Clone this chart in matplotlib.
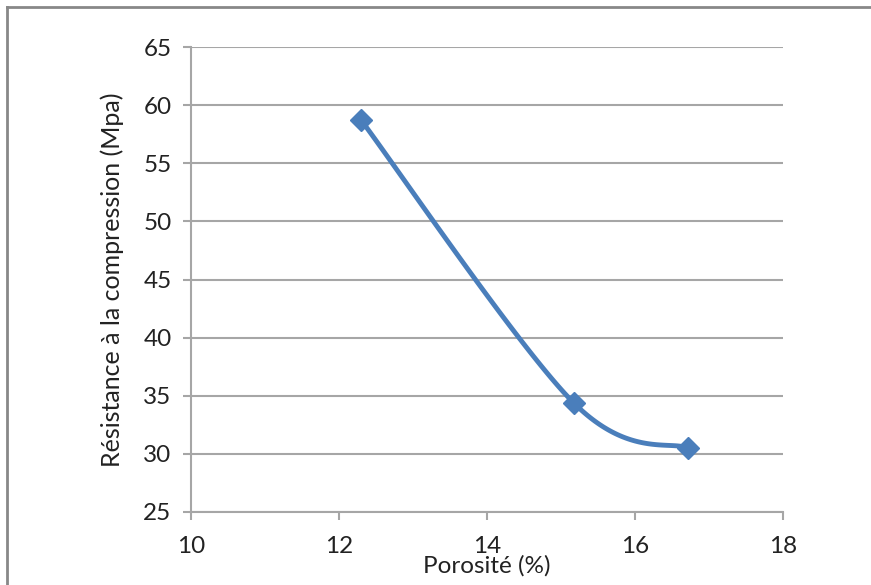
import matplotlib.pyplot as plt
import numpy as np
from matplotlib.lines import Line2D

# données
porosite = [12.3, 15.17, 16.72]
resistance = [58.7, 34.4, 30.5]
x_ticks = [10, 12, 14, 16, 18]
y_ticks = [25, 30, 35, 40, 45, 50, 55, 60, 65]

plt.rcParams['font.family'] = ['Lato', 'DejaVu Sans']

fig = plt.figure(figsize=(8.71, 5.85), dpi=100)
ax = fig.add_axes([191 / 871, 1 - 512 / 585, 592 / 871, 465 / 585])
ax.set_xlim(10, 18)
ax.set_ylim(25, 65)
ax.set_xticks(x_ticks)
ax.set_yticks(y_ticks)

grid_c = '#a6a6a6'
txt_c = '#222222'
ax.grid(axis='y', color=grid_c, lw=1.5)
ax.set_axisbelow(True)
for s in ['top', 'right']:
    ax.spines[s].set_visible(False)
for s in ['left', 'bottom']:
    ax.spines[s].set_color(grid_c)
    ax.spines[s].set_linewidth(1.5)
ax.tick_params(direction='out', length=6, width=1.5, color=grid_c,
               labelsize=17.5, labelcolor=txt_c, pad=8)
ax.tick_params(axis='x', pad=11)

# lissage type Excel (Bezier, calculé en pixels)
pts = ax.transData.transform(np.column_stack([porosite, resistance]))
ext = np.vstack([pts[0], pts, pts[-1]])
curve = []
t = np.linspace(0, 1, 60)[:, None]
for i in range(1, len(ext) - 2):
    p0, p1 = ext[i], ext[i + 1]
    c1 = p0 + (ext[i + 1] - ext[i - 1]) / 6
    c2 = p1 - (ext[i + 2] - ext[i]) / 6
    seg = ((1 - t) ** 3) * p0 + 3 * ((1 - t) ** 2) * t * c1 + 3 * (1 - t) * t ** 2 * c2 + t ** 3 * p1
    curve.append(seg)
curve = ax.transData.inverted().transform(np.vstack(curve))

blue = '#4a7ebb'
ax.plot(curve[:, 0], curve[:, 1], color=blue, lw=3.5, solid_capstyle='round')
ax.plot(porosite, resistance, 'D', color=blue, ms=11)

ax.set_xlabel('Porosité (%)', fontsize=17.5, color=txt_c, labelpad=-1)
ax.set_ylabel('Résistance à la compression (Mpa)', fontsize=18, color=txt_c, labelpad=14)

# cadre du graphique
fig.add_artist(Line2D([7 / 871, 7 / 871], [0, 1 - 7 / 585], color='#888888', lw=2))
fig.add_artist(Line2D([7 / 871, 1], [1 - 7 / 585, 1 - 7 / 585], color='#888888', lw=2))

fig.savefig('out.png', dpi=100)
